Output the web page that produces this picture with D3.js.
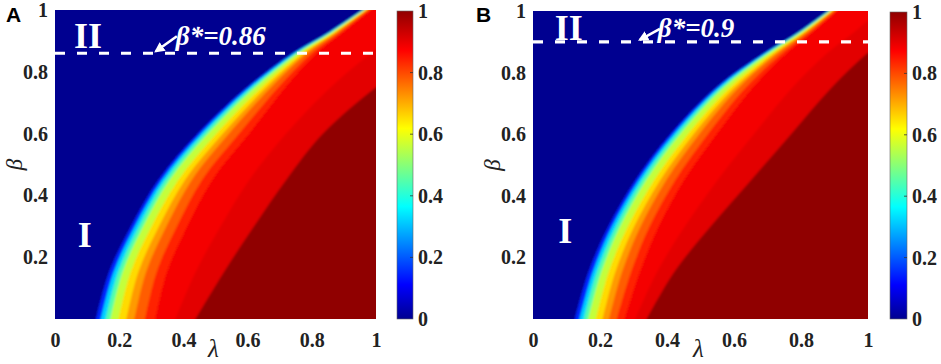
<!DOCTYPE html>
<html lang="en">
<head>
<meta charset="utf-8">
<title>Phase diagram heatmaps</title>
<script src="https://cdn.jsdelivr.net/npm/d3@7"></script>
<style>
  html, body { margin: 0; padding: 0; background: #fff; }
  svg { display: block; }
  .tick text { font-family: "Liberation Serif", "Times New Roman", serif; font-weight: bold; font-size: 20px; fill: #222; }
  .ax-label { font-family: "Liberation Serif", "Times New Roman", serif; font-style: italic; font-size: 25px; fill: #222; }
  .ax-label.beta { font-size: 23px; }
  .roman { font-family: "Liberation Serif", "Times New Roman", serif; font-weight: bold; font-size: 36px; fill: #fff; }
  .star { font-family: "Liberation Serif", "Times New Roman", serif; font-weight: bold; font-style: italic; font-size: 27px; fill: #fff; }
  .letter { font-family: "Liberation Sans", Arial, sans-serif; font-weight: bold; font-size: 21px; fill: #000; }
</style>
</head>
<body>
<svg id="chart" width="941" height="364"></svg>
<script>
const betaRows = [0, 0.15, 0.3, 0.45, 0.6, 0.75, 0.86, 0.93, 1.0];

// value of the field to the right of each contour (levels 0.05 .. 1)
const bandValues = [0.15, 0.32, 0.45, 0.56, 0.655, 0.72, 0.78, 0.84, 0.885, 0.905, 1.0];

// panel A: lambda of each contour at betaRows
const lambdaA = [
  [0.125, 0.168, 0.237, 0.322, 0.445, 0.598, 0.740, 0.855, 0.975], // 0.05
  [0.140, 0.182, 0.249, 0.333, 0.455, 0.606, 0.745, 0.858, 0.977], // 0.25
  [0.155, 0.196, 0.262, 0.344, 0.465, 0.614, 0.750, 0.861, 0.979], // 0.4
  [0.170, 0.210, 0.275, 0.357, 0.477, 0.624, 0.756, 0.865, 0.981], // 0.5
  [0.195, 0.235, 0.301, 0.384, 0.503, 0.643, 0.767, 0.871, 0.984], // 0.62
  [0.220, 0.259, 0.324, 0.405, 0.523, 0.658, 0.776, 0.877, 0.987], // 0.69
  [0.245, 0.283, 0.347, 0.426, 0.542, 0.673, 0.785, 0.882, 0.989], // 0.75
  [0.278, 0.316, 0.380, 0.458, 0.574, 0.696, 0.800, 0.891, 0.995], // 0.81
  [0.310, 0.348, 0.412, 0.490, 0.605, 0.718, 0.815, 0.900, 1.000], // 0.87
  [0.370, 0.437, 0.516, 0.605, 0.720, 0.859, 0.984, 1.080, 1.175], // 0.91
  [0.430, 0.525, 0.620, 0.720, 0.835, 1.000, 1.150, 1.250, 1.350]  // 1
];

// panel B
const lambdaB = [
  [0.122, 0.165, 0.225, 0.305, 0.410, 0.545, 0.685, 0.790, 0.896],
  [0.136, 0.178, 0.236, 0.315, 0.419, 0.552, 0.690, 0.793, 0.898],
  [0.149, 0.190, 0.248, 0.325, 0.428, 0.559, 0.694, 0.795, 0.900],
  [0.162, 0.203, 0.260, 0.337, 0.439, 0.568, 0.700, 0.799, 0.902],
  [0.185, 0.225, 0.283, 0.361, 0.462, 0.586, 0.710, 0.805, 0.905],
  [0.205, 0.245, 0.302, 0.379, 0.479, 0.600, 0.719, 0.811, 0.908],
  [0.224, 0.265, 0.321, 0.397, 0.496, 0.613, 0.727, 0.816, 0.910],
  [0.247, 0.292, 0.348, 0.424, 0.522, 0.634, 0.741, 0.825, 0.916],
  [0.270, 0.318, 0.375, 0.450, 0.548, 0.655, 0.755, 0.834, 0.921],
  [0.300, 0.369, 0.453, 0.550, 0.659, 0.773, 0.875, 0.957, 1.046],
  [0.333, 0.420, 0.530, 0.650, 0.770, 0.890, 0.995, 1.080, 1.170]
];

const xTicks = [0, 0.2, 0.4, 0.6, 0.8, 1];
const yTicks = [0.2, 0.4, 0.6, 0.8, 1];
const cbTicks = [0, 0.2, 0.4, 0.6, 0.8, 1];
const betaStar = [0.86, 0.9];
const starLabels = ["β*=0.86", "β*=0.9"];
const panelLetters = ["A", "B"];

// matlab jet
const jetStops = [0, 0.111, 0.365, 0.619, 0.873, 1];
const jetColors = ["#000090", "#0000ff", "#00ffff", "#ffff00", "#ff0000", "#900000"];
const jet = d3.scaleLinear().domain(jetStops).range(jetColors).clamp(true);

const svg = d3.select("#chart");
const defs = svg.append("defs");

const grad = defs.append("linearGradient").attr("id", "jetGrad")
  .attr("x1", 0).attr("y1", 1).attr("x2", 0).attr("y2", 0);
grad.selectAll("stop").data(jetStops).join("stop")
  .attr("offset", d => d).attr("stop-color", d => jet(d));

defs.append("filter").attr("id", "soft")
  .append("feGaussianBlur").attr("stdDeviation", 1.3);

defs.append("marker").attr("id", "arrowHead")
  .attr("viewBox", "0 0 10 10").attr("refX", 8).attr("refY", 5)
  .attr("markerWidth", 4).attr("markerHeight", 4).attr("orient", "auto")
  .append("path").attr("d", "M0,0L10,5L0,10z").attr("fill", "#fff");

const panels = [
  { lambda: lambdaA, left: 55, right: 376, top: 10, bottom: 319, cbL: 397, cbR: 413, ox: 0,
    tipLam: 0.308, arrow: [23, -17], text: [22, -8], II: [0.103, 0.877], I: [0.093, 0.234] },
  { lambda: lambdaB, left: 533, right: 868, top: 11, bottom: 319, cbL: 890, cbR: 907, ox: 470,
    tipLam: 0.313, arrow: [22, -13], text: [20, -5], II: [0.107, 0.906], I: [0.096, 0.248] }
];

function styleAxis(g) {
  g.select(".domain").remove();
  g.selectAll(".tick line").remove();
  g.attr("font-family", null).attr("font-size", null);
}

panels.forEach((p, i) => {
  const x = d3.scaleLinear().domain([0, 1]).range([p.left, p.right]);
  const y = d3.scaleLinear().domain([0, 1]).range([p.bottom, p.top]);
  const last = betaRows.length - 1;

  const clipId = "clip" + i;
  defs.append("clipPath").attr("id", clipId).append("rect")
    .attr("x", p.left).attr("y", p.top)
    .attr("width", p.right - p.left).attr("height", p.bottom - p.top);

  const g = svg.append("g").attr("clip-path", `url(#${clipId})`);
  const field = g.append("g").attr("filter", "url(#soft)");
  field.append("rect")
    .attr("x", p.left - 10).attr("y", p.top - 10)
    .attr("width", p.right - p.left + 20).attr("height", p.bottom - p.top + 20)
    .attr("fill", jet(0));

  // ends pushed a few px past the frame so the soft edge stays outside the clip
  const area = d3.area()
    .curve(d3.curveCatmullRom.alpha(0.5))
    .y((d, j) => y(betaRows[j]) + (j === 0 ? 4 : j === last ? -4 : 0))
    .x0(d => x(d))
    .x1(x(1.6));

  field.selectAll("path.band").data(p.lambda).join("path")
    .attr("class", "band")
    .attr("d", area)
    .attr("fill", (d, k) => jet(bandValues[k]));

  // beta* dashed line
  g.append("line")
    .attr("x1", x(0)).attr("x2", x(1))
    .attr("y1", y(betaStar[i])).attr("y2", y(betaStar[i]))
    .attr("stroke", "#fff").attr("stroke-width", 3.2)
    .attr("stroke-dasharray", "10,12");

  // annotation arrow + text
  const tx = x(p.tipLam), ty = y(betaStar[i]);
  svg.append("line")
    .attr("x1", tx + p.arrow[0]).attr("y1", ty + p.arrow[1])
    .attr("x2", tx + 2).attr("y2", ty - 2)
    .attr("stroke", "#fff").attr("stroke-width", 2.6)
    .attr("marker-end", "url(#arrowHead)");
  svg.append("text").attr("class", "star")
    .attr("x", tx + p.text[0]).attr("y", ty + p.text[1])
    .text(starLabels[i]);

  svg.append("text").attr("class", "roman").attr("text-anchor", "middle")
    .attr("x", x(p.II[0])).attr("y", y(p.II[1])).text("II");
  svg.append("text").attr("class", "roman").attr("text-anchor", "middle")
    .attr("x", x(p.I[0])).attr("y", y(p.I[1])).text("I");

  // axes (labels only)
  svg.append("g").attr("transform", `translate(0,${p.bottom})`)
    .call(d3.axisBottom(x).tickValues(xTicks).tickSize(0).tickPadding(14).tickFormat(d => String(d)))
    .call(styleAxis);
  svg.append("g").attr("transform", `translate(${p.left},0)`)
    .call(d3.axisLeft(y).tickValues(yTicks).tickSize(0).tickPadding(7).tickFormat(d => String(d)))
    .call(styleAxis);

  svg.append("text").attr("class", "ax-label").attr("text-anchor", "middle")
    .attr("x", (p.left + p.right) / 2 - 2).attr("y", 357).text("λ");
  svg.append("text").attr("class", "ax-label beta").attr("text-anchor", "middle")
    .attr("transform", `translate(${p.left - 33},${(p.top + p.bottom) / 2}) rotate(-90)`)
    .text("β");

  // colorbar
  const cy = d3.scaleLinear().domain([0, 1]).range([p.bottom, p.top + 1]);
  svg.append("rect")
    .attr("x", p.cbL).attr("y", cy(1))
    .attr("width", p.cbR - p.cbL).attr("height", cy(0) - cy(1))
    .attr("fill", "url(#jetGrad)")
    .attr("stroke", "#666").attr("stroke-width", 0.6);
  svg.selectAll(null).data(cbTicks.slice(1, -1)).join("line")
    .attr("x1", p.cbR - 3).attr("x2", p.cbR)
    .attr("y1", d => cy(d)).attr("y2", d => cy(d))
    .attr("stroke", "#333").attr("stroke-width", 0.8);
  svg.append("g").attr("transform", `translate(${p.cbR},0)`)
    .call(d3.axisRight(cy).tickValues(cbTicks).tickSize(0).tickPadding(5).tickFormat(d => String(d)))
    .call(styleAxis);

  svg.append("text").attr("class", "letter")
    .attr("x", p.ox + 6).attr("y", 22).text(panelLetters[i]);
});
</script>
</body>
</html>
